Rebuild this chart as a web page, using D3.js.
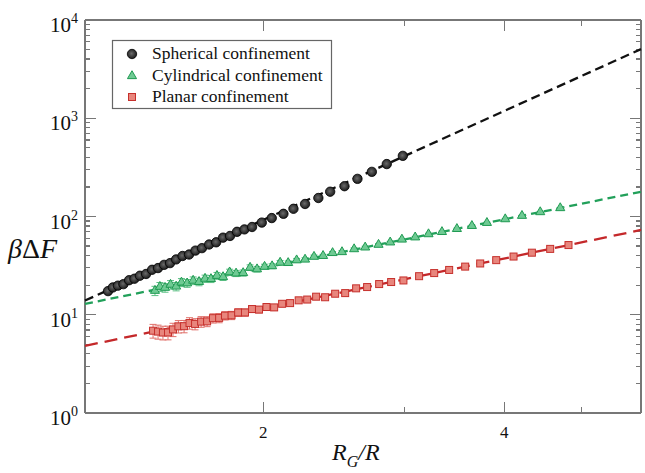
<!DOCTYPE html>
<html lang="en">

<head>
  <meta charset='utf-8'>
  <script src='https://cdn.jsdelivr.net/npm/d3@7'></script>
  <title></title>
  <style>
    body {
      margin: 0;
      background: #fff;
    }

    text {
      font-family: 'Liberation Serif', 'Times New Roman', serif;
      fill: #111;
    }

    .frame line {
      stroke: #777;
      stroke-width: 1.2px;
      shape-rendering: crispEdges;
    }
  </style>
</head>

<body>
  <div id='chart'></div>
  <script>
    // Values.

    var seriesNames = ['Spherical confinement', 'Cylindrical confinement', 'Planar confinement'];

    var sphereX = [1.279, 1.297, 1.316, 1.337, 1.359, 1.380, 1.402, 1.427, 1.452, 1.477, 1.503, 1.529, 1.556, 1.585, 1.615, 1.645, 1.676, 1.711, 1.746, 1.781, 1.817, 1.854, 1.894, 1.936, 1.991, 2.049, 2.119, 2.181, 2.255, 2.343, 2.424, 2.526, 2.622, 2.733, 2.853, 2.988];
    var sphereY = [17.4, 18.97, 19.77, 20.48, 22.47, 23.27, 24.96, 26.0, 28.68, 29.87, 32.2, 33.54, 36.57, 39.63, 41.02, 44.98, 47.64, 51.89, 54.62, 60.9, 63.37, 69.86, 73.9, 78.2, 86.7, 96.4, 106.5, 119.8, 134.1, 154.3, 178.8, 203.4, 241.6, 284.8, 341.7, 414.3];

    var cylX = [1.464, 1.485, 1.507, 1.531, 1.556, 1.580, 1.606, 1.634, 1.662, 1.691, 1.720, 1.750, 1.781, 1.815, 1.849, 1.887, 1.925, 1.964, 2.007, 2.051, 2.099, 2.148, 2.201, 2.255, 2.314, 2.375, 2.441, 2.508, 2.597, 2.681, 2.786, 2.881, 2.980, 3.096, 3.217, 3.344, 3.491, 3.645, 3.806, 4.012, 4.210, 4.437, 4.700];
    var cylY = [17.57, 19.28, 18.85, 20.26, 19.4, 21.34, 20.91, 22.27, 21.63, 23.31, 23.16, 24.95, 24.23, 27.08, 26.36, 26.63, 30.19, 29.12, 30.88, 31.26, 33.99, 33.71, 35.92, 36.53, 39.01, 39.79, 42.59, 43.52, 46.6, 48.52, 51.68, 54.61, 58.4, 61.45, 66.22, 69.72, 74.85, 80.35, 86.27, 94.06, 101.8, 111.0, 122.0];
    var cylErr = [1.9, 2.0, 1.9, 2.0, 1.9, 2.0, 1.9, 2.0, 1.9, 2.0, 1.9, 2.0, 1.9, 2.0, 1.9, 1.9, 2.0, 1.9, 1.8, 1.8, 1.7, 1.6, 1.5, 1.5, 1.5, 1.4, 1.4, 1.4, 1.3, 1.3, 1.3, 1.2, 1.2, 1.2, 1.2, 1.2, 1.2, 1.2, 1.2, 1.2, 1.2, 1.2, 1.2];

    var planeX = [1.456, 1.477, 1.498, 1.520, 1.542, 1.566, 1.592, 1.617, 1.643, 1.672, 1.701, 1.730, 1.761, 1.791, 1.825, 1.860, 1.897, 1.936, 1.975, 2.018, 2.063, 2.111, 2.160, 2.214, 2.269, 2.328, 2.389, 2.459, 2.531, 2.612, 2.696, 2.791, 2.889, 2.993, 3.131, 3.270, 3.414, 3.575, 3.733, 3.909, 4.109, 4.332, 4.566, 4.813];
    var planeY = [6.88, 6.74, 6.59, 6.60, 7.09, 7.62, 7.65, 8.23, 8.07, 8.51, 8.56, 9.23, 9.29, 9.79, 9.87, 10.55, 10.55, 11.43, 11.29, 11.99, 11.88, 12.93, 13.14, 14.02, 14.28, 15.27, 15.07, 16.37, 16.61, 18.57, 19.14, 20.53, 21.53, 22.34, 24.69, 26.56, 28.58, 30.9, 33.26, 35.96, 39.13, 42.83, 46.82, 51.21];
    var planeErr = [1.1, 1.1, 1.05, 1.05, 1.1, 1.1, 1.1, 1.1, 1.05, 1.05, 1.0, 1.0, 1.0, 0.95, 0.95, 0.95, 0.9, 0.9, 0.85, 0.8, 0.8, 0.75, 0.75, 0.7, 0.7, 0.7, 0.65, 0.65, 0.65, 0.65, 0.6, 0.6, 0.6, 0.6, 0.6, 0.6, 0.6, 0.6, 0.6, 0.6, 0.6, 0.6, 0.6, 0.6];

    // Power-law fits y = A * x^p (dashed lines), one per series.
    var fitPrefactor = [7.19, 9.61, 3.556];
    var fitExponent = [3.683, 1.642, 1.697];

    var xDomain = [1.197, 5.93];
    var yDomain = [1, 10000];
    var xMajorTicks = [2, 4];
    var xMinorTicks = [3, 5];
    var yMajorTicks = [1, 10, 100, 1000, 10000];
    var yTickExponents = ['0', '1', '2', '3', '4'];

    // Layout.

    var width = 645,
      height = 473;

    var margin = {
      top: 20,
      right: 4,
      bottom: 60,
      left: 85
    };

    var svg = d3.select('#chart')
      .append('svg')
      .attr('width', width)
      .attr('height', height);

    var w = width - margin.left - margin.right,
      h = height - margin.top - margin.bottom;

    var g = svg.append('g')
      .attr('transform', 'translate(' + margin.left + ',' + margin.top + ')');

    var xScale = d3.scaleLog().domain(xDomain).range([0, w]);
    var yScale = d3.scaleLog().domain(yDomain).range([h, 0]);

    // Minor y ticks: 2..9 in each decade.
    var yMinorTicks = yScale.ticks().filter(function(v) {
      return yMajorTicks.indexOf(v) < 0;
    });

    // Frame with inward ticks on all four sides.

    var frame = g.append('g').attr('class', 'frame');

    frame.append('line').attr('x1', 0).attr('x2', w).attr('y1', h).attr('y2', h);
    frame.append('line').attr('x1', 0).attr('x2', w).attr('y1', 0).attr('y2', 0);
    frame.append('line').attr('x1', 0).attr('x2', 0).attr('y1', 0).attr('y2', h);
    frame.append('line').attr('x1', w).attr('x2', w).attr('y1', 0).attr('y2', h);

    function xTicks(vals, len) {
      vals.forEach(function(v) {
        var x = xScale(v);
        frame.append('line').attr('x1', x).attr('x2', x).attr('y1', h).attr('y2', h - len);
        frame.append('line').attr('x1', x).attr('x2', x).attr('y1', 0).attr('y2', len);
      });
    }

    function yTicks(vals, len) {
      vals.forEach(function(v) {
        var y = yScale(v);
        frame.append('line').attr('x1', 0).attr('x2', len).attr('y1', y).attr('y2', y);
        frame.append('line').attr('x1', w).attr('x2', w - len).attr('y1', y).attr('y2', y);
      });
    }

    xTicks(xMajorTicks, 11);
    xTicks(xMinorTicks, 6);
    yTicks(yMajorTicks, 11);
    yTicks(yMinorTicks, 5);

    // Tick labels.

    g.selectAll('.xlabel')
      .data(xMajorTicks)
      .enter()
      .append('text')
      .attr('x', function(d) {
        return xScale(d);
      })
      .attr('y', h + 25)
      .attr('text-anchor', 'middle')
      .style('font-size', '17px')
      .text(function(d) {
        return d;
      });

    var ylab = g.selectAll('.ylabel')
      .data(yMajorTicks)
      .enter()
      .append('text')
      .attr('x', -7)
      .attr('y', function(d) {
        return yScale(d) + 12;
      })
      .attr('text-anchor', 'end')
      .style('font-size', '21px');

    ylab.append('tspan').text('10');
    ylab.append('tspan')
      .attr('dy', -9)
      .style('font-size', '14px')
      .text(function(d, i) {
        return yTickExponents[i];
      });

    // Axis titles.

    var xTitle = svg.append('text')
      .attr('x', 332)
      .attr('y', 460)
      .style('font-size', '24px')
      .style('font-style', 'italic');
    xTitle.append('tspan').text('R');
    xTitle.append('tspan').attr('dy', 7).style('font-size', '16px').text('G');
    xTitle.append('tspan').attr('dy', -7).text('/R');

    var yTitle = svg.append('text')
      .attr('x', 8)
      .attr('y', 258)
      .style('font-size', '28px');
    yTitle.append('tspan').style('font-style', 'italic').text('β');
    yTitle.append('tspan').text('Δ');
    yTitle.append('tspan').style('font-style', 'italic').text('F');

    // Fit lines.

    var lineStyles = [
      { color: '#111', dash: '9,5' },
      { color: '#22a05a', dash: '8,5' },
      { color: '#c4282a', dash: '13,7' }
    ];

    var line = d3.line()
      .x(function(d) { return xScale(d[0]); })
      .y(function(d) { return yScale(d[1]); });

    fitPrefactor.forEach(function(A, i) {
      var pts = xDomain.map(function(x) {
        return [x, A * Math.pow(x, fitExponent[i])];
      });
      g.append('path')
        .attr('d', line(pts))
        .attr('fill', 'none')
        .attr('stroke', lineStyles[i].color)
        .attr('stroke-width', 2.3)
        .attr('stroke-dasharray', lineStyles[i].dash);
    });

    // Marker gradient for the spheres.

    var grad = svg.append('defs').append('radialGradient')
      .attr('id', 'sphere')
      .attr('cx', '45%').attr('cy', '45%').attr('r', '60%');
    grad.append('stop').attr('offset', '0%').attr('stop-color', '#6a6a6a');
    grad.append('stop').attr('offset', '100%').attr('stop-color', '#141414');

    // Error bars.

    function errorBars(xs, ys, es, color) {
      var eb = g.append('g')
        .attr('stroke', color)
        .attr('stroke-width', 1)
        .selectAll('g')
        .data(xs)
        .enter()
        .append('g');
      eb.append('line')
        .attr('x1', function(d) { return xScale(d); })
        .attr('x2', function(d) { return xScale(d); })
        .attr('y1', function(d, i) { return yScale(ys[i] - es[i]); })
        .attr('y2', function(d, i) { return yScale(ys[i] + es[i]); });
      [-1, 1].forEach(function(s) {
        eb.append('line')
          .attr('x1', function(d) { return xScale(d) - 3.5; })
          .attr('x2', function(d) { return xScale(d) + 3.5; })
          .attr('y1', function(d, i) { return yScale(ys[i] + s * es[i]); })
          .attr('y2', function(d, i) { return yScale(ys[i] + s * es[i]); });
      });
    }

    errorBars(cylX, cylY, cylErr, '#5cbf84');
    errorBars(planeX, planeY, planeErr, '#e0706a');

    // Markers.

    var tri = d3.symbol().type(d3.symbolTriangle).size(36);

    function drawSphere(sel) {
      sel.attr('r', 4.7)
        .attr('fill', 'url(#sphere)')
        .attr('stroke', '#000')
        .attr('stroke-width', 0.8);
    }

    function drawTriangle(sel) {
      sel.attr('d', tri)
        .attr('fill', '#6fca93')
        .attr('stroke', '#1f9a52')
        .attr('stroke-width', 1);
    }

    function drawSquare(sel) {
      sel.attr('x', -3.5).attr('y', -3.5)
        .attr('width', 7).attr('height', 7)
        .attr('fill', '#e8867d')
        .attr('stroke', '#c6302c')
        .attr('stroke-width', 1);
    }

    g.append('g').selectAll('circle')
      .data(sphereX)
      .enter()
      .append('circle')
      .attr('cx', function(d) { return xScale(d); })
      .attr('cy', function(d, i) { return yScale(sphereY[i]); })
      .call(drawSphere);

    g.append('g').selectAll('path')
      .data(cylX)
      .enter()
      .append('path')
      .attr('transform', function(d, i) {
        return 'translate(' + xScale(d) + ',' + yScale(cylY[i]) + ')';
      })
      .call(drawTriangle);

    g.append('g').selectAll('g')
      .data(planeX)
      .enter()
      .append('g')
      .attr('transform', function(d, i) {
        return 'translate(' + xScale(d) + ',' + yScale(planeY[i]) + ')';
      })
      .append('rect')
      .call(drawSquare);

    // Legend.

    var legend = svg.append('g');

    legend.append('rect')
      .attr('x', 112.5).attr('y', 40.5)
      .attr('width', 219).attr('height', 68)
      .attr('fill', '#fff')
      .attr('stroke', '#666')
      .attr('stroke-width', 1.2);

    var legendY = [54, 76, 97];

    legend.append('circle')
      .attr('cx', 132).attr('cy', legendY[0])
      .call(drawSphere);
    legend.append('path')
      .attr('transform', 'translate(132,' + legendY[1] + ')')
      .call(drawTriangle);
    legend.append('g')
      .attr('transform', 'translate(132,' + legendY[2] + ')')
      .append('rect')
      .call(drawSquare);

    legend.selectAll('.ltext')
      .data(seriesNames)
      .enter()
      .append('text')
      .attr('x', 152)
      .attr('y', function(d, i) {
        return legendY[i] + 5;
      })
      .style('font-size', '17.5px')
      .text(function(d) {
        return d;
      });
  </script>
</body>

</html>
